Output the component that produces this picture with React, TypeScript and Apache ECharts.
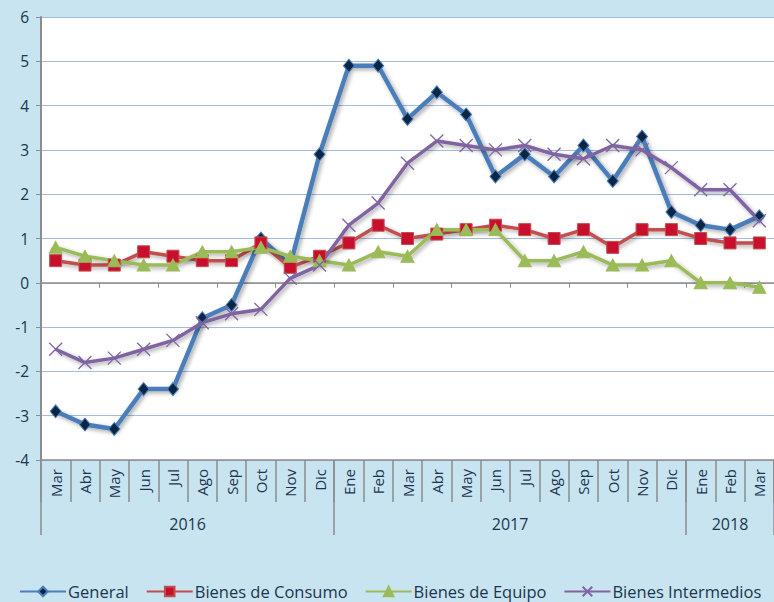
import React, { useEffect, useRef } from "react";
import * as echarts from "echarts";

const months = [
  "Mar", "Abr", "May", "Jun", "Jul", "Ago", "Sep", "Oct", "Nov", "Dic",
  "Ene", "Feb", "Mar", "Abr", "May", "Jun", "Jul", "Ago", "Sep", "Oct", "Nov", "Dic",
  "Ene", "Feb", "Mar",
];
const years = ["2016", "2017", "2018"];
const yearCounts = [10, 12, 3];

const general = [
  -2.9, -3.2, -3.3, -2.4, -2.4, -0.8, -0.5, 1.0, 0.4, 2.9,
  4.9, 4.9, 3.7, 4.3, 3.8, 2.4, 2.9, 2.4, 3.1, 2.3, 3.3, 1.6,
  1.3, 1.2, 1.5,
];
const consumo = [
  0.5, 0.4, 0.4, 0.7, 0.6, 0.5, 0.5, 0.9, 0.35, 0.6,
  0.9, 1.3, 1.0, 1.1, 1.2, 1.3, 1.2, 1.0, 1.2, 0.8, 1.2, 1.2,
  1.0, 0.9, 0.9,
];
const equipo = [
  0.8, 0.6, 0.5, 0.4, 0.4, 0.7, 0.7, 0.8, 0.6, 0.5,
  0.4, 0.7, 0.6, 1.2, 1.2, 1.2, 0.5, 0.5, 0.7, 0.4, 0.4, 0.5,
  0.0, 0.0, -0.1,
];
const intermedios = [
  -1.5, -1.8, -1.7, -1.5, -1.3, -0.9, -0.7, -0.6, 0.1, 0.4,
  1.3, 1.8, 2.7, 3.2, 3.1, 3.0, 3.1, 2.9, 2.8, 3.1, 3.0, 2.6,
  2.1, 2.1, 1.4,
];
const seriesNames = ["General", "Bienes de Consumo", "Bienes de Equipo", "Bienes Intermedios"];

const FONT = "'Open Sans', sans-serif";
const TEXT = "#1B3550";
const AXIS = "#8C8C8C";

export default function App() {
  const ref = useRef<HTMLDivElement>(null);
  useEffect(() => {
    if (!ref.current) return;
    const chart = echarts.init(ref.current, null, { renderer: "svg" });

    const boundaries: number[] = [0];
    const centers: number[] = [];
    let acc = 0;
    yearCounts.forEach((c) => {
      centers.push(acc + c / 2);
      acc += c;
      boundaries.push(acc);
    });

    const shadow = {
      shadowColor: "rgba(0,0,0,0.35)",
      shadowBlur: 4,
      shadowOffsetX: 2,
      shadowOffsetY: 2,
    };

    const option: any = {
      animation: false,
      backgroundColor: "#C8E4F0",
      textStyle: { fontFamily: FONT },
      grid: {
        left: 41,
        top: 17,
        right: -2,
        bottom: 142,
        show: true,
        backgroundColor: "#FFFFFF",
        borderWidth: 0,
      },
      legend: {
        bottom: -3,
        left: 14,
        itemWidth: 46,
        itemHeight: 12,
        itemGap: 17,
        textStyle: { fontFamily: FONT, fontSize: 16.5, color: TEXT, padding: [0, 0, 0, -3] },
        data: seriesNames,
      },
      xAxis: [
        {
          type: "category",
          data: months,
          boundaryGap: true,
          position: "bottom",
          axisLine: { onZero: false, lineStyle: { color: AXIS, width: 1.5 } },
          axisTick: { show: true, length: 42, lineStyle: { color: AXIS, width: 1.5 } },
          axisLabel: { rotate: 90, margin: 9, fontSize: 15, color: TEXT, fontFamily: FONT },
          splitLine: { show: false },
        },
        {
          type: "value",
          min: 0,
          max: months.length,
          position: "bottom",
          axisLine: { show: false, onZero: false },
          axisTick: {
            show: true,
            length: 75,
            customValues: boundaries,
            lineStyle: { color: AXIS, width: 1.5 },
          },
          axisLabel: {
            show: true,
            margin: 56,
            fontSize: 16,
            color: TEXT,
            fontFamily: FONT,
            customValues: centers,
            formatter: (v: number) => {
              const i = centers.findIndex((c) => Math.abs(c - v) < 1e-6);
              return i >= 0 ? years[i] : "";
            },
          },
          splitLine: { show: false },
        },
        {
          type: "category",
          data: months,
          boundaryGap: true,
          position: "bottom",
          axisLine: { onZero: true, lineStyle: { color: AXIS, width: 1.5 } },
          axisTick: { show: true, length: 5, lineStyle: { color: AXIS, width: 1 } },
          axisLabel: { show: false },
          splitLine: { show: false },
        },
      ],
      yAxis: {
        type: "value",
        min: -4,
        max: 6,
        interval: 1,
        axisLine: { show: true, onZero: false, lineStyle: { color: AXIS, width: 2 } },
        axisTick: { show: true, length: 5, lineStyle: { color: AXIS } },
        axisLabel: { margin: 12, fontSize: 15.5, color: TEXT, fontFamily: FONT },
        splitLine: { show: true, lineStyle: { color: "#A2BDE0", width: 1.2 } },
      },
      series: [
        {
          name: seriesNames[0],
          type: "line",
          data: general,
          xAxisIndex: 0,
          symbol: "diamond",
          symbolSize: [11, 13],
          lineStyle: { color: "#4A7EBB", width: 4.5, ...shadow },
          itemStyle: { color: "#0B2545", borderColor: "#4A7EBB", borderWidth: 1 },
        },
        {
          name: seriesNames[1],
          type: "line",
          data: consumo,
          xAxisIndex: 0,
          symbol: "rect",
          symbolSize: 12,
          lineStyle: { color: "#C0504D", width: 3.5, ...shadow },
          itemStyle: { color: "#C8102E", borderColor: "#C0504D", borderWidth: 1 },
        },
        {
          name: seriesNames[2],
          type: "line",
          data: equipo,
          xAxisIndex: 0,
          symbol: "triangle",
          symbolSize: [13, 12],
          lineStyle: { color: "#9BBB59", width: 3.5, ...shadow },
          itemStyle: { color: "#9BBB59", borderColor: "#9BBB59", borderWidth: 1 },
        },
        {
          name: seriesNames[3],
          type: "line",
          data: intermedios,
          xAxisIndex: 0,
          symbol: "path://M0,0L10,10M10,0L0,10",
          symbolSize: 13,
          lineStyle: { color: "#8064A2", width: 3.5, ...shadow },
          itemStyle: { color: "none", borderColor: "#8064A2", borderWidth: 1.3 },
        },
      ],
    };
    chart.setOption(option);
    return () => chart.dispose();
  }, []);
  return (
    <div
      ref={ref}
      style={{ position: "fixed", left: 0, top: 0, width: 774, height: 602 }}
    />
  );
}
